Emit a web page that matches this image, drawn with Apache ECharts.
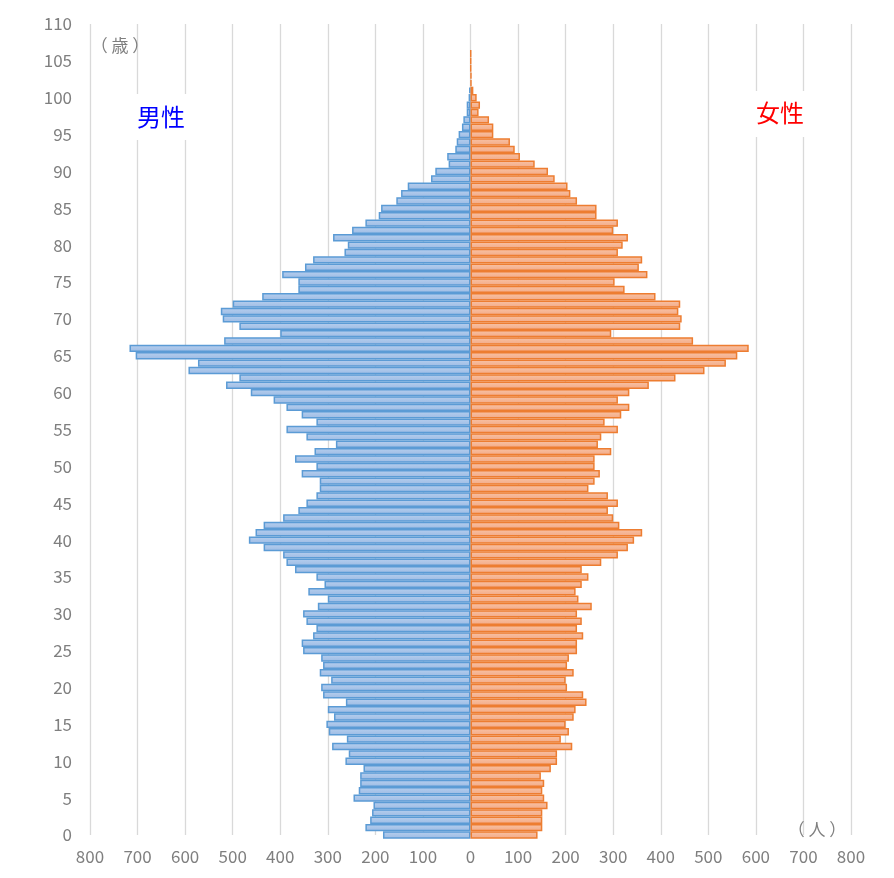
<!DOCTYPE html>
<html>
<head>
<meta charset="utf-8">
<script src="https://cdn.jsdelivr.net/npm/echarts@6/dist/echarts.min.js"></script>
<style>
html,body{margin:0;padding:0;background:#fff;}
#chart{width:894px;height:878px;}
</style>
</head>
<body>
<div id="chart"></div>
<script>
// Ages 0..110 (category positions on the vertical axis)
const ages = [];
for (let a = 0; a <= 110; a++) ages.push(String(a));

// Male population by age (0..101)
const male = [184,221,211,207,204,246,235,232,232,225,
  263,256,291,260,298,303,287,300,262,310,
  314,293,317,310,314,352,355,331,324,345,
  352,321,300,341,307,324,369,387,394,435,
  466,452,435,394,362,345,324,317,317,355,
  324,369,328,283,345,387,324,355,387,414,
  462,514,486,593,573,704,717,518,400,486,
  521,525,500,438,362,362,396,348,331,265,
  258,289,249,221,193,188,156,146,132,83,
  74,46,49,32,29,25,18,15,8,8,
  4,3];

// Female population by age (0..106)
const female = [141,151,151,151,162,155,151,155,148,169,
  182,182,214,190,207,200,217,221,244,237,
  203,200,217,203,207,224,224,237,224,234,
  224,255,227,221,234,248,234,275,310,331,
  344,361,313,300,289,310,289,248,261,272,
  261,261,296,268,275,310,282,317,334,310,
  334,375,431,492,537,561,585,468,296,441,
  444,437,441,389,324,303,372,354,361,310,
  320,331,300,310,265,265,224,210,204,177,
  163,135,104,93,83,48,48,39,17,20,
  13,6,2,2,1,1,1];

const xTicks = [-800,-700,-600,-500,-400,-300,-200,-100,0,100,200,300,400,500,600,700,800];

const FONT = "'Noto Sans CJK JP', 'Noto Sans', sans-serif";

const chart = echarts.init(document.getElementById('chart'), null, {renderer: 'canvas'});

const maleData = ages.map((a, i) => (i < male.length ? -male[i] : null));
const femaleData = ages.map((a, i) => (i < female.length ? female[i] : null));

chart.setOption({
  animation: false,
  backgroundColor: '#ffffff',
  grid: {left: 90, right: 43, top: 24, bottom: 43, containLabel: false},
  xAxis: {
    type: 'value',
    min: xTicks[0],
    max: xTicks[xTicks.length - 1],
    interval: 100,
    axisLine: {show: false},
    axisTick: {show: false},
    axisLabel: {
      color: '#7f7f7f', fontSize: 17, fontFamily: FONT, margin: 13,
      formatter: v => String(Math.abs(v))
    },
    splitLine: {show: true, lineStyle: {color: '#d9d9d9', width: 1.3}}
  },
  yAxis: {
    type: 'category',
    data: ages,
    boundaryGap: false,
    axisLine: {show: false},
    axisTick: {show: false},
    splitLine: {show: false},
    axisLabel: {
      color: '#7f7f7f', fontSize: 17, fontFamily: FONT, margin: 18,
      interval: 4
    }
  },
  series: [
    {
      name: '男性',
      type: 'bar',
      data: maleData,
      barWidth: '100%',
      barGap: '-100%',
      clip: true,
      itemStyle: {
        color: new echarts.graphic.LinearGradient(0, 0, 0, 1, [
          {offset: 0, color: '#b7cfee'},
          {offset: 1, color: '#9cbbe4'}
        ]),
        borderColor: '#5b9bd5',
        borderWidth: 1.5
      }
    },
    {
      name: '女性',
      type: 'bar',
      data: femaleData,
      barWidth: '100%',
      barGap: '-100%',
      clip: true,
      itemStyle: {
        color: new echarts.graphic.LinearGradient(0, 0, 0, 1, [
          {offset: 0, color: '#f8c3a6'},
          {offset: 1, color: '#f3a985'}
        ]),
        borderColor: '#ed7d31',
        borderWidth: 1.5
      }
    }
  ],
  graphic: [
    {type: 'rect', left: 131, top: 94, shape: {width: 60, height: 46}, style: {fill: '#ffffff'}, z: 10},
    {type: 'rect', left: 750, top: 91, shape: {width: 60, height: 46}, style: {fill: '#ffffff'}, z: 10},
    {type: 'text', x: 161, y: 117, z: 11,
      style: {text: '男性', fill: '#0000ff', fontSize: 24, fontFamily: FONT, align: 'center', verticalAlign: 'middle'}},
    {type: 'text', x: 780, y: 113, z: 11,
      style: {text: '女性', fill: '#ff0000', fontSize: 24, fontFamily: FONT, align: 'center', verticalAlign: 'middle'}},
    {type: 'text', x: 120, y: 46, z: 11,
      style: {text: '（ 歳 ）', fill: '#7f7f7f', fontSize: 17, fontFamily: FONT, align: 'center', verticalAlign: 'middle'}},
    {type: 'text', x: 817, y: 830, z: 11,
      style: {text: '（ 人 ）', fill: '#7f7f7f', fontSize: 17, fontFamily: FONT, align: 'center', verticalAlign: 'middle'}}
  ]
});
</script>
</body>
</html>
